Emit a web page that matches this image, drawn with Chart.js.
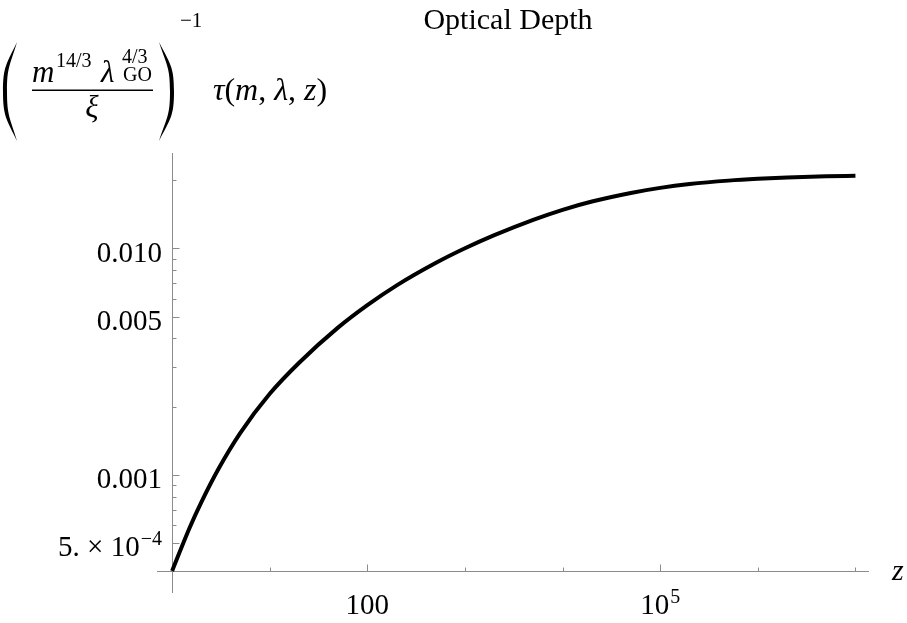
<!DOCTYPE html>
<html>
<head>
<meta charset="utf-8">
<script src="https://cdn.jsdelivr.net/npm/chart.js@4"></script>
<style>
body { margin: 0; background: #fff; }
canvas { display: block; }
</style>
</head>
<body>
<canvas id="depthChart" width="907" height="623"></canvas>
<script>
// values (log-log)
const zValues = [1, 1.5, 2, 3, 5, 10, 20, 50, 100, 200, 500, 1000, 2000, 5000,
  1e4, 2e4, 5e4, 1e5, 2e5, 5e5, 1e6, 2e6, 5e6, 1e7];
const tauValues = [3.754e-4, 5.788e-4, 7.588e-4, 1.065e-3, 1.531e-3, 2.277e-3, 3.124e-3,
  4.465e-3, 5.614e-3, 6.865e-3, 8.615e-3, 1.001e-2, 1.144e-2, 1.337e-2, 1.481e-2,
  1.611e-2, 1.758e-2, 1.851e-2, 1.924e-2, 1.993e-2, 2.030e-2, 2.057e-2, 2.082e-2, 2.095e-2];

const xRange = [0.7105, 1.377e7];
const yRange = [3.043e-4, 0.0264];
const axisOrigin = [1, 3.754e-4];

const xMajorTicks = [1, 100, 1e5];
const xMinorTicks = [10, 1000, 1e4, 1e6, 1e7];
const yMajorTicks = [0.01, 0.005, 0.001, 5e-4];
const yMinorTicks = [0.02, 0.009, 0.008, 0.007, 0.006, 0.004, 0.003, 0.002, 9e-4, 8e-4, 7e-4, 6e-4];
const xTickLabels = [[100, '100', ''], [1e5, '10', '5']];
const yTickLabels = [[0.01, '0.010', ''], [0.005, '0.005', ''], [0.001, '0.001', ''], [5e-4, '5. \u00d7 10', '\u22124']];

const serif = '"Liberation Serif", "Times New Roman", serif';
const bigFont = '29px ' + serif;
const smallFont = '20px ' + serif;

function drawPower(c, base, exp, x, y, align) {
  c.font = bigFont;
  const wb = c.measureText(base).width;
  c.font = smallFont;
  const we = exp ? c.measureText(exp).width + 1 : 0;
  const total = wb + we;
  let start = x;
  if (align === 'center') start = x - total / 2;
  if (align === 'right') start = x - total;
  c.textAlign = 'left';
  c.font = bigFont;
  c.fillText(base, start, y);
  if (exp) {
    c.font = smallFont;
    c.fillText(exp, start + wb + 1, y - 11);
  }
}

function drawParen(c, tipX, top, bot, midOuter, midInner) {
  const my = (top + bot) / 2;
  c.beginPath();
  c.moveTo(tipX, top);
  c.bezierCurveTo(midOuter + (tipX - midOuter) * 0.25, top + 22, midOuter, my - 25, midOuter, my);
  c.bezierCurveTo(midOuter, my + 25, midOuter + (tipX - midOuter) * 0.25, bot - 22, tipX, bot);
  c.bezierCurveTo(midInner + (tipX - midInner) * 0.3, bot - 24, midInner, my + 25, midInner, my);
  c.bezierCurveTo(midInner, my - 25, midInner + (tipX - midInner) * 0.3, top + 24, tipX, top);
  c.fill();
}

// draw a run of [text, italic] pieces
function drawRun(c, pieces, x, y, size) {
  c.textAlign = 'left';
  for (const [t, it] of pieces) {
    c.font = (it ? 'italic ' : '') + size + 'px ' + serif;
    c.fillText(t, x, y);
    x += c.measureText(t).width;
  }
}

function drawYLabel(c) {
  c.fillStyle = '#000';
  drawParen(c, 17, 42, 141, 3, 7);
  drawParen(c, 159, 42, 141, 174, 170);
  drawRun(c, [['m', true]], 32, 82, 31);
  drawRun(c, [['14/3', false]], 56, 67, 20);
  drawRun(c, [['\u03bb', true]], 101, 82, 31);
  drawRun(c, [['4/3', false]], 122, 63, 20);
  drawRun(c, [['GO', false]], 123, 81, 20);
  c.fillRect(32, 89.5, 121, 1.5);
  c.font = 'italic 31px ' + serif;
  c.textAlign = 'center';
  c.fillText('\u03be', 92, 117);
  drawRun(c, [['\u22121', false]], 180, 27, 21);
  drawRun(c, [['\u03c4', true], ['(', false], ['m', true], [', ', false], ['\u03bb', true],
    [', ', false], ['z', true], [')', false]], 213, 100, 32);
}

const mathAxes = {
  id: 'mathAxes',
  beforeDatasetsDraw(chart) {
    const c = chart.ctx, xs = chart.scales.x, ys = chart.scales.y, area = chart.chartArea;
    const x0 = Math.round(xs.getPixelForValue(axisOrigin[0])) + 0.5;
    const y0 = Math.round(ys.getPixelForValue(axisOrigin[1])) + 0.5;
    c.save();
    c.strokeStyle = '#8c8c8c';
    c.lineWidth = 1;
    c.beginPath();
    c.moveTo(area.left, y0); c.lineTo(area.right, y0);
    c.moveTo(x0, area.top); c.lineTo(x0, area.bottom);
    xMajorTicks.forEach(v => { const p = Math.round(xs.getPixelForValue(v)) + 0.5; c.moveTo(p, y0); c.lineTo(p, y0 - 7); });
    xMinorTicks.forEach(v => { const p = Math.round(xs.getPixelForValue(v)) + 0.5; c.moveTo(p, y0); c.lineTo(p, y0 - 4); });
    yMajorTicks.forEach(v => { const p = Math.round(ys.getPixelForValue(v)) + 0.5; c.moveTo(x0, p); c.lineTo(x0 + 7, p); });
    yMinorTicks.forEach(v => { const p = Math.round(ys.getPixelForValue(v)) + 0.5; c.moveTo(x0, p); c.lineTo(x0 + 4, p); });
    c.stroke();
    c.restore();
  },
  afterDraw(chart) {
    const c = chart.ctx, xs = chart.scales.x, ys = chart.scales.y;
    c.save();
    c.fillStyle = '#000';
    c.textBaseline = 'alphabetic';
    xTickLabels.forEach(([v, base, exp]) => drawPower(c, base, exp, xs.getPixelForValue(v), 614, 'center'));
    yTickLabels.forEach(([v, base, exp]) => drawPower(c, base, exp, 162, ys.getPixelForValue(v) + 13.5, 'right'));
    c.font = 'italic 30px ' + serif;
    c.textAlign = 'left';
    c.fillText('z', 892, 580);
    c.font = '30px ' + serif;
    c.textAlign = 'center';
    c.fillText('Optical Depth', 508, 29);
    drawYLabel(c);
    c.restore();
  }
};

let depthChart = new Chart(document.getElementById('depthChart').getContext('2d'), {
  type: 'line',
  data: {
    datasets: [{
      data: zValues.map((z, i) => ({ x: z, y: tauValues[i] })),
      borderColor: '#000',
      borderWidth: 4,
      pointRadius: 0,
      fill: false,
      cubicInterpolationMode: 'monotone',
      clip: false
    }]
  },
  options: {
    responsive: false,
    animation: false,
    layout: { padding: { left: 157, right: 38, top: 153, bottom: 30 } },
    plugins: { legend: { display: false }, tooltip: { enabled: false } },
    scales: {
      x: { type: 'logarithmic', min: xRange[0], max: xRange[1], display: false },
      y: { type: 'logarithmic', min: yRange[0], max: yRange[1], display: false }
    }
  },
  plugins: [mathAxes]
});
</script>
</body>
</html>
